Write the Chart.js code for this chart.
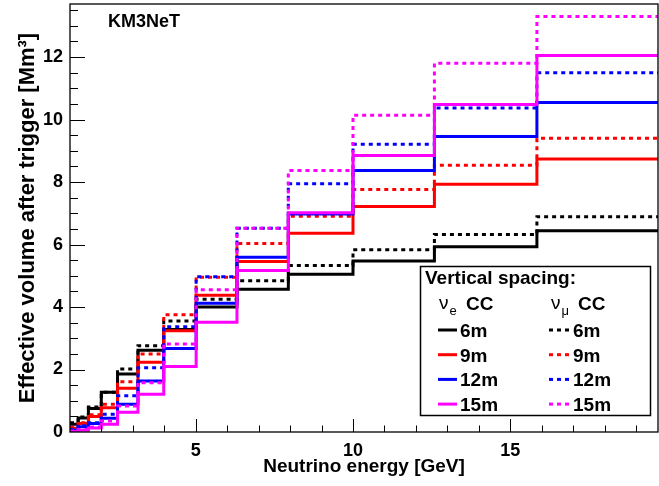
<!DOCTYPE html>
<html>
<head>
<meta charset="utf-8">
<script src="https://cdn.jsdelivr.net/npm/chart.js@4.4.1/dist/chart.umd.min.js"></script>
<style>
  html, body { margin: 0; padding: 0; background: #fff; }
  #wrap { width: 659px; height: 486px; }
</style>
</head>
<body>
<div id="wrap"><canvas id="c" width="659" height="486"></canvas></div>
<script>
// bin edges of the energy histogram (10 bins per decade), in GeV
const binEdges = [1, 1.259, 1.585, 1.995, 2.512, 3.162, 3.981, 5.012, 6.310, 7.943, 10, 12.589, 15.849, 19.953];
const xTickLabels = [5, 10, 15];
const yTickLabels = [0, 2, 4, 6, 8, 10, 12];
const spacingLabels = ['6m', '9m', '12m', '15m'];

// effective volume [Mm3], nu_e CC (solid)
const nueCC6m  = [0.25, 0.45, 0.75, 1.27, 1.86, 2.62, 3.28, 4.00, 4.57, 5.05, 5.47, 5.93, 6.44];
const nueCC9m  = [0.12, 0.27, 0.50, 0.78, 1.40, 2.23, 3.24, 4.38, 5.46, 6.36, 7.22, 7.93, 8.74];
const nueCC12m = [0.06, 0.17, 0.27, 0.44, 0.89, 1.63, 2.67, 4.12, 5.59, 6.98, 8.37, 9.46, 10.55];
const nueCC15m = [0.02, 0.06, 0.13, 0.25, 0.63, 1.21, 2.10, 3.51, 5.17, 7.02, 8.85, 10.48, 12.05];

// effective volume [Mm3], nu_mu CC (dotted)
const numuCC6m  = [0.30, 0.48, 0.80, 1.27, 2.02, 2.76, 3.55, 4.25, 4.84, 5.33, 5.83, 6.32, 6.89];
const numuCC9m  = [0.15, 0.30, 0.55, 0.89, 1.61, 2.50, 3.75, 4.95, 6.03, 6.91, 7.76, 8.54, 9.40];
const numuCC12m = [0.08, 0.20, 0.30, 0.57, 1.16, 2.06, 3.37, 4.97, 6.52, 7.95, 9.21, 10.37, 11.50];
const numuCC15m = [0.03, 0.08, 0.16, 0.35, 0.83, 1.58, 2.82, 4.55, 6.52, 8.37, 10.14, 11.80, 13.30];

const FONT = '"Liberation Sans", Arial, Helvetica, sans-serif';
const DOTS = [4, 4];

// histogram -> step points (one per bin edge)
function histSteps(values) {
    const pts = values.map((v, i) => ({ x: binEdges[i], y: v }));
    pts.push({ x: binEdges[values.length], y: values[values.length - 1] });
    return pts;
}

// drawing order: last entry ends up on top
const series = [
    { label: 'nu_mu CC 6m',  data: numuCC6m,  color: '#000000', dotted: true },
    { label: 'nu_e CC 6m',   data: nueCC6m,   color: '#000000', dotted: false },
    { label: 'nu_mu CC 9m',  data: numuCC9m,  color: '#ff0000', dotted: true },
    { label: 'nu_e CC 9m',   data: nueCC9m,   color: '#ff0000', dotted: false },
    { label: 'nu_mu CC 12m', data: numuCC12m, color: '#0000ff', dotted: true },
    { label: 'nu_e CC 12m',  data: nueCC12m,  color: '#0000ff', dotted: false },
    { label: 'nu_mu CC 15m', data: numuCC15m, color: '#ff00ff', dotted: true },
    { label: 'nu_e CC 15m',  data: nueCC15m,  color: '#ff00ff', dotted: false }
];
const legendColors = ['#000000', '#ff0000', '#0000ff', '#ff00ff'];

const datasets = series.map((s, i) => ({
    label: s.label,
    data: histSteps(s.data),
    borderColor: s.color,
    borderWidth: 3,
    borderDash: s.dotted ? DOTS : [],
    stepped: 'before',
    pointRadius: 0,
    fill: false,
    order: series.length - i
}));

// no extra room for half tick labels
function noPad(s) {
    s.paddingTop = 0; s.paddingBottom = 0; s.paddingLeft = 0; s.paddingRight = 0;
}

// ROOT-like frame, inner ticks, KM3NeT label and legend box
const rootDecor = {
    id: 'rootDecor',
    afterDraw(chart) {
        const { ctx, chartArea: a, scales: { x, y } } = chart;
        ctx.save();
        ctx.strokeStyle = '#000';
        ctx.lineWidth = 1;
        ctx.setLineDash([]);

        // x ticks (inside, from bottom)
        for (let v = 2; v <= 19; v++) {
            const px = Math.round(x.getPixelForValue(v)) + 0.5;
            const len = v % 5 === 0 ? 13 : 6.5;
            ctx.beginPath(); ctx.moveTo(px, a.bottom); ctx.lineTo(px, a.bottom - len); ctx.stroke();
        }
        // y ticks (inside, from left)
        for (let v = 0.5; v <= 13.5; v += 0.5) {
            const py = Math.round(y.getPixelForValue(v)) + 0.5;
            const len = v % 2 === 0 ? 15 : 8;
            ctx.beginPath(); ctx.moveTo(a.left, py); ctx.lineTo(a.left + len, py); ctx.stroke();
        }
        // frame
        ctx.lineWidth = 1.3;
        ctx.strokeRect(a.left, a.top, a.right - a.left, a.bottom - a.top);

        // experiment label
        ctx.fillStyle = '#000';
        ctx.font = 'bold 18px ' + FONT;
        ctx.textBaseline = 'alphabetic';
        ctx.textAlign = 'left';
        ctx.fillText('KM3NeT', 108, 27);

        // legend
        const bx = 420, by = 266, bw = 230, bh = 149;
        ctx.fillStyle = '#fff';
        ctx.fillRect(bx, by, bw, bh);
        ctx.lineWidth = 1.5;
        ctx.strokeRect(bx + 0.5, by + 0.5, bw, bh);

        ctx.fillStyle = '#000';
        ctx.font = 'bold 19px ' + FONT;
        ctx.fillText('Vertical spacing:', 425, 284);

        // column heads with subscripts
        function nuHead(xs, sub) {
            ctx.font = '19px ' + FONT;
            ctx.fillText('\u03bd', xs, 309);
            const w = ctx.measureText('\u03bd').width;
            ctx.font = '13px ' + FONT;
            ctx.fillText(sub, xs + w + 1, 315);
            ctx.font = 'bold 19px ' + FONT;
            ctx.fillText('CC', xs + 27, 310);
        }
        nuHead(439, 'e');
        nuHead(551, '\u03bc');

        spacingLabels.forEach((lab, i) => {
            const ly = 330 + i * 24.7;
            ctx.strokeStyle = legendColors[i];
            ctx.lineWidth = 3;
            ctx.setLineDash([]);
            ctx.beginPath(); ctx.moveTo(438, ly); ctx.lineTo(457, ly); ctx.stroke();
            ctx.setLineDash(DOTS);
            ctx.beginPath(); ctx.moveTo(549, ly); ctx.lineTo(571, ly); ctx.stroke();
            ctx.setLineDash([]);
            ctx.fillStyle = '#000';
            ctx.font = 'bold 19px ' + FONT;
            ctx.fillText(lab, 460, ly + 7);
            ctx.fillText(lab, 573, ly + 7);
        });
        ctx.restore();
    }
};

new Chart(document.getElementById('c'), {
    type: 'line',
    data: { datasets },
    options: {
        responsive: false,
        animation: false,
        devicePixelRatio: 1,
        layout: { padding: { top: 4, right: 1, left: 0, bottom: 0 } },
        plugins: { legend: { display: false }, tooltip: { enabled: false } },
        scales: {
            x: {
                type: 'linear',
                min: 1,
                max: 19.7,
                grid: { display: false, drawTicks: false },
                border: { display: false },
                afterBuildTicks: (s) => { s.ticks = xTickLabels.map(v => ({ value: v })); },
                afterFit: (s) => { s.height = 54; noPad(s); },
                ticks: { color: '#000', padding: 8, font: { family: FONT, size: 18, weight: 'bold' }, maxRotation: 0 },
                title: {
                    display: true,
                    text: 'Neutrino energy [GeV]',
                    color: '#000',
                    font: { family: FONT, size: 19, weight: 'bold' },
                    padding: { top: 0, bottom: 8 }
                }
            },
            y: {
                min: 0,
                max: 13.7,
                grid: { display: false, drawTicks: false },
                border: { display: false },
                afterBuildTicks: (s) => { s.ticks = yTickLabels.map(v => ({ value: v })); },
                afterFit: (s) => { s.width = 70; noPad(s); },
                ticks: { color: '#000', padding: 7, font: { family: FONT, size: 18, weight: 'bold' } },
                title: {
                    display: true,
                    text: 'Effective volume after trigger [Mm\u00b3]',
                    color: '#000',
                    font: { family: FONT, size: 22, weight: 'bold' },
                    padding: { top: 15, bottom: 0 }
                }
            }
        }
    },
    plugins: [rootDecor]
});
</script>
</body>
</html>
